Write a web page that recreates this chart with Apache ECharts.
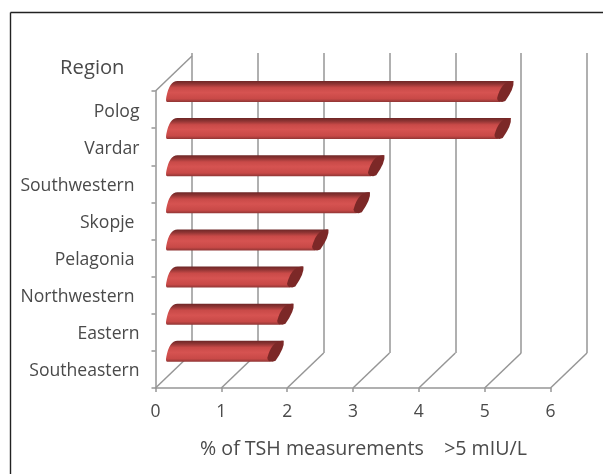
<!DOCTYPE html>
<html><head><meta charset="utf-8">
<style>html,body{margin:0;padding:0;background:#fff}#c{width:603px;height:474px}</style>
<script src="https://cdn.jsdelivr.net/npm/echarts@6/dist/echarts.min.js"></script>
</head><body><div id="c"></div>
<script>
const regions = ['Polog','Vardar','Southwestern','Skopje','Pelagonia','Northwestern','Eastern','Southeastern'];
const percentages = [5.06,5.02,3.1,2.88,2.25,1.87,1.72,1.57];
const xTicks = [0,1,2,3,4,5,6];
const xTitle = '% of TSH measurements    >5 mIU/L';
const yTitle = 'Region';
const insetLabels = ['Southwestern','Skopje','Pelagonia','Northwestern'];

const GREY = '#969696', TEXT = '#4a4a4a', FONT = '"Open Sans"';
const DX = 36.5, DY = -35;
const chart = echarts.init(document.getElementById('c'), null, {renderer:'canvas'});

function wallEdges(params, api){
  const p = api.coord([api.value(0), regions[regions.length-1]]);
  const bandH = api.size([0,1])[1];
  const x = p[0], bottom = p[1] + bandH/2;
  const line = (x1,y1,x2,y2)=>({type:'line',shape:{x1,y1,x2,y2},style:{stroke:GREY,lineWidth:1.5,fill:null}});
  const children = [line(x,bottom,x+DX,bottom+DY)];
  if (api.value(0) === 0) {
    const top = api.coord([0, regions[0]])[1] - bandH/2;
    children.push(line(x,top,x+DX,top+DY));
  }
  return {type:'group',children};
}
function bar3d(params, api){
  const zero = api.coord([0, api.value(1)]);
  const end = api.coord([api.value(0), api.value(1)]);
  const x0 = zero[0] + 11.5, x1 = end[0] + 11.5;
  const yb = zero[1] - 7.6, yt = zero[1] - 28.6, skew = 13;
  const body = `M${x0+11} ${yt} L${x1+skew} ${yt} L${x1} ${yb} L${x0+1} ${yb} Q${x0-1} ${yb} ${x0} ${yb-5} Q${x0+3} ${yt} ${x0+11} ${yt} Z`;
  const cap = `M${x1+skew-2} ${yt} L${x1+skew} ${yt} Q${x1+skew+1} ${yt+7} ${x1+5} ${yb-1} L${x1+2} ${yb} Q${x1-3} ${yb} ${x1-3} ${yb-4} Q${x1+1} ${yt+1} ${x1+skew-2} ${yt} Z`;
  const grad = new echarts.graphic.LinearGradient(0,0,0,1,[
    {offset:0,color:'#6d2626'},{offset:0.14,color:'#8e3433'},{offset:0.32,color:'#c94a48'},
    {offset:0.55,color:'#d65351'},{offset:0.85,color:'#c84947'},{offset:1,color:'#8f3534'}]);
  return {type:'group',children:[
    {type:'path',shape:{pathData:body,layout:'cover',x:x0-1,y:yt,width:x1+skew-x0+1,height:yb-yt},style:{fill:grad}},
    {type:'path',shape:{pathData:cap,layout:'cover',x:x1-3,y:yt,width:skew+3.5,height:yb-yt},style:{fill:'#7c2827'}}
  ]};
}

chart.setOption({
  animation:false,
  backgroundColor:'#fff',
  graphic:[
    {type:'line',shape:{x1:10.5,y1:12.5,x2:603,y2:12.5},style:{stroke:'#222',lineWidth:1.4}},
    {type:'line',shape:{x1:10.5,y1:12.5,x2:10.5,y2:474},style:{stroke:'#222',lineWidth:1.4}}
  ],
  grid:[
    {left:155.5,top:91,width:395,height:297},
    {left:192,top:53,width:395,height:300}
  ],
  xAxis:[
    {gridIndex:0,type:'value',min:0,max:6,interval:1,
     axisLine:{show:true,lineStyle:{color:GREY,width:1.5}},
     axisTick:{show:true,length:4,lineStyle:{color:GREY,width:1.5}},
     splitLine:{show:false},
     axisLabel:{color:TEXT,fontFamily:FONT,fontSize:17.5,margin:15},
     name:xTitle,nameLocation:'middle',nameGap:51,
     nameTextStyle:{color:TEXT,fontFamily:FONT,fontSize:19.6,padding:[0,0,0,21]}},
    {gridIndex:1,type:'value',min:0,max:6,interval:1,
     axisLine:{show:false},axisTick:{show:false},axisLabel:{show:false},
     splitLine:{show:true,lineStyle:{color:GREY,width:1.5}}}
  ],
  yAxis:[
    {gridIndex:0,type:'category',inverse:true,data:regions,
     axisLine:{show:true,lineStyle:{color:GREY,width:1.5}},
     axisTick:{show:true,length:4,lineStyle:{color:GREY,width:1.5}},
     splitLine:{show:false},
     axisLabel:{margin:16,formatter:v=>insetLabels.includes(v)?`{i|${v}}`:`{n|${v}}`,
       rich:{n:{color:TEXT,fontFamily:FONT,fontSize:17.6,padding:[4,0,0,0]},i:{color:TEXT,fontFamily:FONT,fontSize:17.6,padding:[4,5,0,0]}}},
     name:yTitle,nameLocation:'start',nameGap:0,
     nameTextStyle:{color:TEXT,fontFamily:FONT,fontSize:20.2,align:'right',verticalAlign:'bottom',padding:[0,31,13,0]}},
    {gridIndex:1,type:'value',min:0,max:1,axisLine:{show:false},axisTick:{show:false},axisLabel:{show:false},splitLine:{show:false}}
  ],
  series:[
    {type:'custom',xAxisIndex:0,yAxisIndex:0,renderItem:wallEdges,data:xTicks.map(t=>[t]),encode:{x:0},silent:true,z:1},
    {type:'custom',xAxisIndex:0,yAxisIndex:0,renderItem:bar3d,data:percentages.map((v,i)=>[v,regions[i]]),encode:{x:0,y:1},z:5}
  ]
});
</script></body></html>
